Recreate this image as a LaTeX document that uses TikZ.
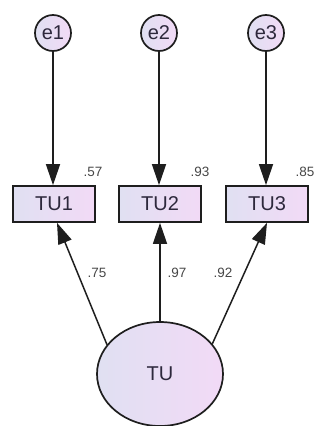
\documentclass[tikz,border=0pt]{standalone}
\usepackage{fontspec}
\setmainfont{Liberation Sans}
\usetikzlibrary{arrows.meta,shapes.geometric}
\definecolor{fillL}{RGB}{224,224,242}
\definecolor{fillR}{RGB}{242,218,246}
\definecolor{edge}{RGB}{30,30,30}
\definecolor{txt}{RGB}{45,40,60}
\definecolor{lbl}{RGB}{70,70,70}
\tikzset{
  errnode/.style={circle, draw=edge, line width=1.7pt, minimum size=36pt, inner sep=0pt,
    left color=fillL, right color=fillR, text=txt, font=\fontsize{20}{22}\selectfont},
  obsnode/.style={rectangle, draw=edge, line width=1.7pt, minimum width=82pt, minimum height=36pt,
    inner sep=0pt, left color=fillL, right color=fillR, text=txt, font=\fontsize{20}{22}\selectfont},
  latnode/.style={ellipse, draw=edge, line width=1.7pt, minimum width=126pt, minimum height=104pt,
    inner sep=0pt, left color=fillL, right color=fillR, text=txt, font=\fontsize{20}{22}\selectfont},
  path/.style={draw=edge, line width=1.5pt, -{Triangle[length=21pt,width=14pt]}},
  coef/.style={text=lbl, font=\fontsize{13.5}{15}\selectfont, inner sep=0pt}
}
\begin{document}
\begin{tikzpicture}[x=1pt,y=-1pt]
\useasboundingbox (0,0) rectangle (323,426);
\node[errnode] (e1) at (53,33) {e1};
\node[errnode] (e2) at (159,33) {e2};
\node[errnode] (e3) at (266,33) {e3};
\node[obsnode] (TU1) at (54,204) {TU1};
\node[obsnode] (TU2) at (160,204) {TU2};
\node[obsnode] (TU3) at (267,204) {TU3};
\node[latnode] (TU) at (160,374) {TU};
\draw[path] (e1) -- (e1 |- TU1.north);
\draw[path] (e2) -- (e2 |- TU2.north);
\draw[path] (e3) -- (e3 |- TU3.north);
\draw[path] (TU.151) -- ([xshift=3pt]TU1.south);
\draw[path] (TU.north) -- (TU2.south);
\draw[path] (TU.30) -- (TU3.south);
\node[coef] (c1) at (93,172) {.57};
\node[coef] (c2) at (200,172) {.93};
\node[coef] (c3) at (305,172) {.85};
\node[coef] (l1) at (97,273) {.75};
\node[coef] (l2) at (177,273) {.97};
\node[coef] (l3) at (223,273) {.92};
\end{tikzpicture}
\end{document}
